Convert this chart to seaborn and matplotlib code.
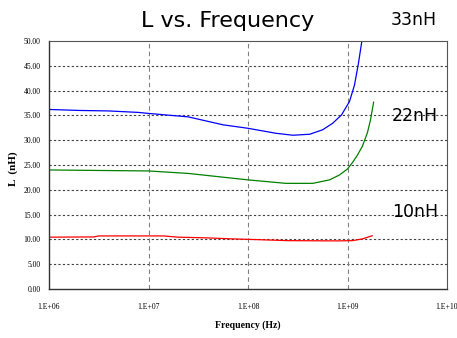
import numpy as np
import pandas as pd
import matplotlib
matplotlib.use("Agg")
import matplotlib.pyplot as plt
import seaborn as sns
from matplotlib.ticker import FixedLocator, FixedFormatter

# ---- data (log10 of frequency in Hz, inductance in nH) ----
logf_33 = [6.0, 6.3, 6.6, 6.9, 7.0, 7.4, 7.75, 8.0, 8.28, 8.45, 8.62, 8.75, 8.85, 8.94, 9.02, 9.07, 9.11, 9.146, 9.16]
L_33 = [36.2, 36.0, 35.9, 35.6, 35.4, 34.7, 33.1, 32.4, 31.4, 31.0, 31.2, 32.1, 33.4, 35.1, 37.8, 41.1, 45.5, 50.2, 52.0]

logf_22 = [6.0, 7.0, 7.4, 8.0, 8.38, 8.65, 8.82, 8.92, 9.0, 9.05, 9.1, 9.15, 9.2, 9.23, 9.263]
L_22 = [24.0, 23.8, 23.3, 22.0, 21.3, 21.3, 22.0, 23.0, 24.2, 25.5, 27.0, 28.8, 31.5, 34.0, 37.7]

logf_10 = [6.0, 6.45, 6.5, 7.15, 7.3, 7.6, 7.85, 8.1, 8.4, 8.9, 9.05, 9.15, 9.25]
L_10 = [10.45, 10.5, 10.7, 10.7, 10.45, 10.3, 10.1, 9.95, 9.75, 9.7, 9.75, 10.1, 10.75]

series_names = ["33nH", "22nH", "10nH"]
series_colors = ["#0000ff", "#008000", "#ff0000"]

x_ticks = [1e6, 1e7, 1e8, 1e9, 1e10]
x_tick_labels = ["1.E+06", "1.E+07", "1.E+08", "1.E+09", "1.E+10"]
y_ticks = [0, 5, 10, 15, 20, 25, 30, 35, 40, 45, 50]
y_tick_labels = ["%.2f" % v for v in y_ticks]

frames = []
for name, lf, L in zip(series_names, [logf_33, logf_22, logf_10], [L_33, L_22, L_10]):
    frames.append(pd.DataFrame({"freq": np.power(10.0, lf), "L": L, "series": name}))
df = pd.concat(frames, ignore_index=True)

sns.set_style("white")
plt.rcParams.update({"text.color": "black", "axes.labelcolor": "black",
                     "xtick.color": "black", "ytick.color": "black"})
W, H = 457, 338
fig = plt.figure(figsize=(W / 100, H / 100), dpi=100)
ax = fig.add_axes([49 / W, (H - 289) / H, 398 / W, 248 / H])

sns.lineplot(data=df, x="freq", y="L", hue="series", palette=dict(zip(series_names, series_colors)),
             ax=ax, linewidth=0.9, legend=False, sort=False, estimator=None)
for ln in ax.get_lines():
    ln.set_solid_joinstyle("round")

ax.set_xscale("log")
ax.set_xlim(1e6, 1e10)
ax.set_ylim(0, 50)
ax.xaxis.set_major_locator(FixedLocator(x_ticks))
ax.xaxis.set_major_formatter(FixedFormatter(x_tick_labels))
ax.xaxis.set_minor_locator(FixedLocator([]))
ax.yaxis.set_major_locator(FixedLocator(y_ticks))
ax.yaxis.set_major_formatter(FixedFormatter(y_tick_labels))

serif = ["Liberation Serif", "DejaVu Serif"]
for lab in ax.get_xticklabels() + ax.get_yticklabels():
    lab.set_family(serif)
    lab.set_fontsize(5.5)
    lab.set_color("black")
ax.tick_params(axis="both", length=0)
ax.tick_params(axis="x", pad=10)
ax.tick_params(axis="y", pad=6)

# grid
for y in y_ticks[1:-1]:
    ax.axhline(y, color="#404040", lw=0.8, ls=(0, (2, 2)), zorder=0)
for x in x_ticks[1:-1]:
    ax.axvline(x, color="#808080", lw=0.8, ls=(0, (4, 3)), zorder=0)

for side in ["left", "bottom"]:
    ax.spines[side].set_color("#333333")
    ax.spines[side].set_linewidth(1.0)
for side in ["top", "right"]:
    ax.spines[side].set_color("#555555")
    ax.spines[side].set_linewidth(0.8)

ax.set_xlabel("Frequency (Hz)", family=serif, fontweight="bold", fontsize=7, color="black")
ax.set_ylabel("L  (nH)", family=serif, fontweight="bold", fontsize=8, color="black")
ax.xaxis.set_label_coords(0.5, (289 - 325) / 248)
ax.yaxis.set_label_coords((13 - 49) / 398, (289 - 169) / 248)
ax.xaxis.label.set_va("center")
ax.yaxis.label.set_va("center")

sans = ["DejaVu Sans"]
fig.text(228 / W, 1 - 27 / H, "L vs. Frequency", family=sans, fontsize=16, ha="center", va="baseline", color="black")
fig.text(414 / W, 1 - 25 / H, "33nH", family=sans, fontsize=12.5, ha="center", va="baseline", color="black")
fig.text(415 / W, 1 - 121 / H, "22nH", family=sans, fontsize=12.5, ha="center", va="baseline", color="black")
fig.text(415 / W, 1 - 217 / H, "10nH", family=sans, fontsize=12.5, ha="center", va="baseline", color="black")

fig.savefig("out.png", dpi=100)
